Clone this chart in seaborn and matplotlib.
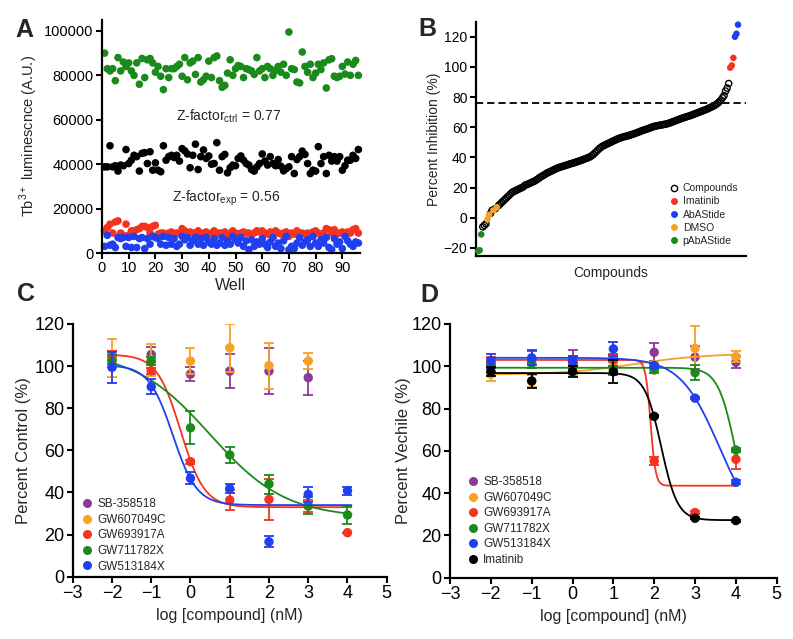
import matplotlib
matplotlib.use("Agg")
import matplotlib.pyplot as plt
from matplotlib.lines import Line2D
from matplotlib.ticker import FormatStrFormatter
import numpy as np
import pandas as pd
import seaborn as sns

# ---- panel A: Tb luminescence per well (x1000 A.U.) ----
wells = list(range(1, 97))
lum_green = [90, 83, 82, 83, 77.6, 88, 82, 86, 84, 85.6, 82, 80, 85.6, 76, 87.6, 79, 87, 87.6, 85.6, 81.4,
             84, 79.6, 73.6, 83, 79, 83, 83, 84, 85, 79.6, 88, 78, 85.6, 86.4, 80.4, 88, 77, 78, 79.6, 86.4,
             79, 88, 88.7, 77.6, 74.6, 75.5, 81, 87, 80, 83, 84.4, 84, 79, 83, 82.6, 82, 80.4, 88, 82, 83,
             79, 84, 83, 80, 82.3, 84, 81.4, 85, 80, 99.5, 83, 82.6, 77, 76.6, 90.5, 84, 81.4, 85, 79, 81,
             85, 82.6, 85.6, 74.3, 87, 87.5, 79.6, 79, 79.6, 84, 80.6, 86, 80, 85, 86.7, 80]
lum_black = [38.8, 38.8, 48.3, 38.8, 39.3, 36.9, 39.6, 39.3, 46.6, 40.3, 41.8, 44, 43.4, 36.9, 44.9, 45.2, 40.3, 45.6, 37.3, 40.6,
             37.3, 36.6, 48.3, 41.8, 43.4, 44, 43, 44, 41.4, 47, 46, 44.6, 38.4, 44, 49, 37.6, 43.4, 46.4, 42.6, 43.7,
             40, 40.3, 49.7, 37.3, 43.4, 44.4, 36.1, 38.4, 39.6, 39.3, 42.6, 43.7, 41.8, 40.3, 39.6, 37.6, 36.9, 38.8, 40.3, 44.6,
             41.4, 39.6, 43.4, 40.3, 39.3, 42.1, 39.1, 37, 38, 38.8, 43.4, 35.8, 42.1, 43.4, 45.9, 44.4, 40.3, 35.8, 37.3, 36.9,
             47.9, 40.3, 43.4, 35.8, 44, 41.4, 43.4, 41.4, 43.4, 37.3, 39.3, 41.8, 41.8, 44, 42.6, 46.6]
lum_red = [10, 11.5, 13, 9, 14, 14.5, 9, 8, 13, 8, 10, 10, 10.5, 11, 12, 12, 11.5, 9, 12, 12.5,
           8.5, 9, 9, 8.5, 9, 9.5, 8.5, 9, 9, 11, 10, 8.5, 9.5, 9, 9, 10, 8.5, 9, 9.5, 8.5,
           9, 10, 8.5, 9, 9, 9.5, 8.5, 9, 10, 9, 8.5, 9, 9.5, 9, 9, 8.5, 9, 10, 9.5, 10,
           9, 8.5, 9.5, 7, 10, 9, 8.5, 9, 9.5, 7.5, 9, 8.5, 10, 9, 9, 8.5, 9, 8.5, 9.5, 10,
           9, 8.5, 9, 11, 10.5, 9, 10.5, 8.5, 9, 9.5, 8, 9.5, 9, 10.5, 11, 9]
lum_blue = [3, 8, 3.5, 4, 2.5, 7, 6.5, 7, 3, 7, 2.5, 7.5, 2.5, 6.5, 7, 2, 6.5, 4, 7.5, 7,
            6.5, 4, 7.5, 3.5, 7, 4, 6.5, 3, 4, 7.5, 6, 7, 3.5, 5.5, 7, 4, 6.5, 3.5, 7, 5,
            4, 6.5, 3.5, 4.5, 7, 3.5, 5.5, 4, 7.5, 6, 4.5, 7, 3, 5.5, 1.5, 6, 3, 5, 4, 6.5,
            4, 2.5, 5, 7, 3, 4.5, 2, 5.5, 7.5, 1.5, 3, 2, 4.5, 7, 3.5, 5, 6, 3, 7.5, 4.5,
            3, 6, 4.5, 7, 2.5, 1.5, 6.5, 4, 5, 2, 7.5, 5.5, 4, 3, 5, 4.5]

# ---- panel B: percent inhibition ----
inh_compounds = [-6, -5, -4, 3, 5, 6, 8, 9, 10, 11, 12, 13, 14, 15, 16, 17,
                 17.5, 18, 18.5, 19, 19.5, 20, 20.5, 21.5,
                 22, 22.3, 22.8, 23.3, 23.8, 24.2, 24.8, 25.5, 26.2, 27,
                 27.6, 28.2, 28.8, 29.5, 30, 30.5, 31, 31.5, 32, 32.5,
                 33, 33.3, 33.7, 34, 34.3, 34.7, 35, 35.3, 35.7, 36, 36.3, 36.6,
                 37, 37.3, 37.7, 38, 38.4, 38.8, 39.2, 39.6, 40, 40.5,
                 41.2, 42, 43, 44, 45, 46, 46.8, 47.5,
                 48, 48.5, 49, 49.5, 50, 50.5, 51, 51.5, 52, 52.4, 52.8, 53.2,
                 53.5, 53.8, 54, 54.3, 54.6, 55, 55.3, 55.6, 56, 56.4, 56.8, 57.2, 57.6, 58,
                 58.3, 58.7, 59, 59.4, 59.8, 60.2, 60.5, 60.8, 61, 61.2, 61.4, 61.6, 61.8, 62,
                 62.2, 62.5, 62.8, 63.2, 63.6, 64, 64.4, 64.8, 65.2, 65.6,
                 66, 66.3, 66.6, 67, 67.3, 67.6, 68, 68.4, 68.8, 69.2, 69.6, 70,
                 70.4, 70.8, 71.2, 71.6, 72, 72.5, 73, 73.5, 74, 74.5,
                 75.2, 76, 77, 78, 79.5, 81, 84, 86, 89]
inh_imatinib = [99.5, 101, 106]
inh_abastide = [120, 122, 128]
inh_dmso = [-1, 2, 5, 7]
inh_pabastide = [-22, -21.5, -11]
hit_cutoff = 76

# ---- panels C / D: dose response ----
log_conc = [-2, -1, 0, 1, 2, 3, 4]
names = ["SB-358518", "GW607049C", "GW693917A", "GW711782X", "GW513184X", "Imatinib"]
colors = ["#8b3a98", "#f7a128", "#f5331f", "#1a8a1a", "#2040f0", "#000000"]

c_mean = [[104, 105.5, 96.2, 97.6, 97.6, 94.5, np.nan],
          [104, 103, 102.4, 108.7, 100.2, 102.4, np.nan],
          [105, 97.8, 54.6, 36.4, 36.7, 33.5, 20.9],
          [102.4, 102.4, 70.7, 57.8, 44, 33.7, 29.3],
          [99.4, 90.2, 46.7, 41.8, 16.6, 39.1, 40.8]]
c_err = [[3, 3.5, 3.4, 8, 11, 8, np.nan],
         [9, 7.5, 6, 11.5, 11, 4, np.nan],
         [2, 1.5, 1, 4.7, 9.9, 3, 0],
         [3, 2, 7.8, 3.6, 4.5, 4, 4.5],
         [7.5, 3.6, 2.9, 2.2, 2.7, 3.4, 2]]
# fit: (left plateau, right plateau, logIC50, hill) ; None = no fit drawn
c_fit = [None, None, (105.5, 33, -0.25, 1.43), (107, 28, 0.5, 0.45), (100.5, 34, -0.45, 1.42)]

d_mean = [[102, 103, 102, 104, 106.6, 104.3, 101.9],
          [96.2, 93, 99, 102, 98.3, 108.5, 104.6],
          [102.5, 103, 103, 103, 55.2, 30.8, 56],
          [99.3, 101.4, 99.5, 98, 98.3, 97, 60.4],
          [102.5, 104, 102.5, 108.2, 100.3, 84.9, 45.1],
          [97.5, 93, 97.5, 97.4, 76.3, 28.1, 27]]
d_err = [[2, 4, 5.5, 2, 4.3, 5.5, 2.8],
         [3.2, 3, 3, 3, 1.5, 10.5, 2.4],
         [2, 4, 2, 3, 2, 0.5, 4.5],
         [2, 2, 2, 2, 1.5, 3.5, 1],
         [3.3, 3.5, 2.5, 3.2, 1, 0.5, 1],
         [2, 3.5, 2.4, 5.5, 0.5, 0.5, 0.5]]
d_fit = [None, (96, 106, 1.5, 0.5), (103, 43.5, 1.91, 7), (99.3, 20, 4.0, 2),
         (104, 20, 3.59, 0.907), (96.8, 27.2, 2.17, 2.16)]

sns.set_style("ticks")
plt.rcParams["font.family"] = ["Liberation Sans", "DejaVu Sans"]
plt.rcParams["axes.linewidth"] = 1.6
plt.rcParams["xtick.major.width"] = 1.5
plt.rcParams["ytick.major.width"] = 1.5
plt.rcParams["xtick.major.size"] = 4
plt.rcParams["ytick.major.size"] = 4
plt.rcParams["xtick.color"] = "black"
plt.rcParams["ytick.color"] = "black"
plt.rcParams["axes.edgecolor"] = "black"


def four_pl(x, left, right, c, h):
    return left + (right - left) / (1 + 10 ** ((c - x) * h))


fig = plt.figure(figsize=(7.93, 6.39), dpi=100)
axA = fig.add_axes([0.1286, 0.604, 0.325, 0.365])
axB = fig.add_axes([0.600, 0.5994, 0.3405, 0.3667])
axC = fig.add_axes([0.0917, 0.0975, 0.396, 0.3955])
axD = fig.add_axes([0.5675, 0.096, 0.412, 0.397])

# ---- A ----
for vals, col in [(lum_green, "#1a8a1a"), (lum_black, "black"), (lum_red, "#f5331f"), (lum_blue, "#2040f0")]:
    sns.scatterplot(x=wells, y=np.array(vals) * 1000, color=col, s=30, edgecolor="none", ax=axA, clip_on=False)
axA.set_xlim(0, 96.5)
axA.set_ylim(0, 105000)
axA.set_xticks(range(0, 91, 10))
axA.set_yticks(range(0, 100001, 20000))
axA.yaxis.set_major_formatter(FormatStrFormatter("%d"))
axA.tick_params(labelsize=10.5, pad=2)
axA.set_xlabel("Well", fontsize=11.5, labelpad=2)
axA.set_ylabel(r"Tb$^{\mathregular{3+}}$ luminescnce (A.U.)", fontsize=10.5, labelpad=3)
axA.text(47.5, 61500, r"Z-factor$_{\mathregular{ctrl}}$ = 0.77", ha="center", va="center", fontsize=10)
axA.text(46.3, 24500, r"Z-factor$_{\mathregular{exp}}$ = 0.56", ha="center", va="center", fontsize=10)
sns.despine(ax=axA)

# ---- B ----
dfB = pd.concat([
    pd.DataFrame({"value": inh_compounds, "group": "Compounds"}),
    pd.DataFrame({"value": inh_imatinib, "group": "Imatinib"}),
    pd.DataFrame({"value": inh_abastide, "group": "AbAStide"}),
    pd.DataFrame({"value": inh_dmso, "group": "DMSO"}),
    pd.DataFrame({"value": inh_pabastide, "group": "pAbAStide"}),
]).sort_values("value").reset_index(drop=True)
dfB["rank"] = np.arange(len(dfB))
axB.axhline(hit_cutoff, color="black", lw=1.3, ls=(0, (4, 2.2)), zorder=1)
comp = dfB[dfB.group == "Compounds"]
sns.scatterplot(data=comp, x="rank", y="value", color="black", facecolor="none",
                edgecolor="black", linewidth=1.0, s=20, ax=axB, zorder=3)
b_colors = {"Imatinib": "#f5331f", "AbAStide": "#2040f0", "DMSO": "#f7a128", "pAbAStide": "#1a8a1a"}
for g, col in b_colors.items():
    sub = dfB[dfB.group == g]
    sns.scatterplot(data=sub, x="rank", y="value", color=col, edgecolor="none", s=22, ax=axB,
                    zorder=4, clip_on=False)
axB.set_xlim(-1.5, len(dfB) + 4)
axB.set_ylim(-25.3, 130)
axB.set_xticks([])
axB.set_yticks(range(-20, 121, 20))
axB.tick_params(labelsize=10, pad=2)
axB.set_xlabel("Compounds", fontsize=10, labelpad=7)
axB.set_ylabel("Percent Inhibition (%)", fontsize=10, labelpad=2)
handlesB = [Line2D([], [], ls="none", marker="o", mfc="none", mec="black", mew=1.0, ms=4.5)]
handlesB += [Line2D([], [], ls="none", marker="o", mfc=c, mec="none", ms=5) for c in b_colors.values()]
axB.legend(handlesB, ["Compounds"] + list(b_colors.keys()), loc="upper left", bbox_to_anchor=(0.72, 0.31),
           frameon=False, fontsize=7.5, handlelength=0.8, handletextpad=0.4, labelspacing=0.3,
           borderpad=0, borderaxespad=0)
sns.despine(ax=axB)


def dose_panel(ax, means, errs, fits, n, xmax_fit):
    xfit = np.linspace(-2, xmax_fit, 400)
    for i in range(n):
        col = colors[i]
        ax.errorbar(log_conc, means[i], yerr=errs[i], fmt="none", ecolor=col, elinewidth=1.3,
                    capsize=3.5, capthick=1.3, zorder=2 + i)
        sns.scatterplot(x=log_conc, y=means[i], color=col, edgecolor="none", s=46, ax=ax, zorder=2.5 + i)
        if fits[i] is not None:
            sns.lineplot(x=xfit, y=four_pl(xfit, *fits[i]), color=col, lw=1.3, ax=ax, zorder=2 + i)
    ax.set_xlim(-3, 5)
    ax.set_ylim(0, 120)
    ax.set_xticks(range(-3, 6))
    ax.set_yticks(range(0, 121, 20))
    ax.tick_params(labelsize=13, pad=2)
    ax.set_xlabel("log [compound] (nM)", fontsize=11.5, labelpad=4)
    sns.despine(ax=ax)


dose_panel(axC, c_mean, c_err, c_fit, 5, 4.1)
axC.set_ylabel("Percent Control (%)", fontsize=12, labelpad=2)
handlesC = [Line2D([], [], ls="none", marker="o", mfc=colors[i], mec="none", ms=6.5) for i in range(5)]
axC.legend(handlesC, names[:5], loc="upper left", bbox_to_anchor=(0.03, 0.31), frameon=False,
           fontsize=8.5, handlelength=0.8, handletextpad=0.5, labelspacing=0.3, borderpad=0, borderaxespad=0)

dose_panel(axD, d_mean, d_err, d_fit, 6, 4.02)
axD.set_ylabel("Percent Vechile (%)", fontsize=12, labelpad=0)
handlesD = [Line2D([], [], ls="none", marker="o", mfc=colors[i], mec="none", ms=6.5) for i in range(6)]
axD.legend(handlesD, names, loc="upper left", bbox_to_anchor=(0.055, 0.4), frameon=False,
           fontsize=8.5, handlelength=0.8, handletextpad=0.5, labelspacing=0.3, borderpad=0, borderaxespad=0)

for x, y, letter in [(0.019, 0.942, "A"), (0.527, 0.943, "B"), (0.021, 0.529, "C"), (0.53, 0.528, "D")]:
    fig.text(x, y, letter, fontsize=18, fontweight="bold", ha="left", va="baseline")

fig.savefig("out.png", dpi=100)
